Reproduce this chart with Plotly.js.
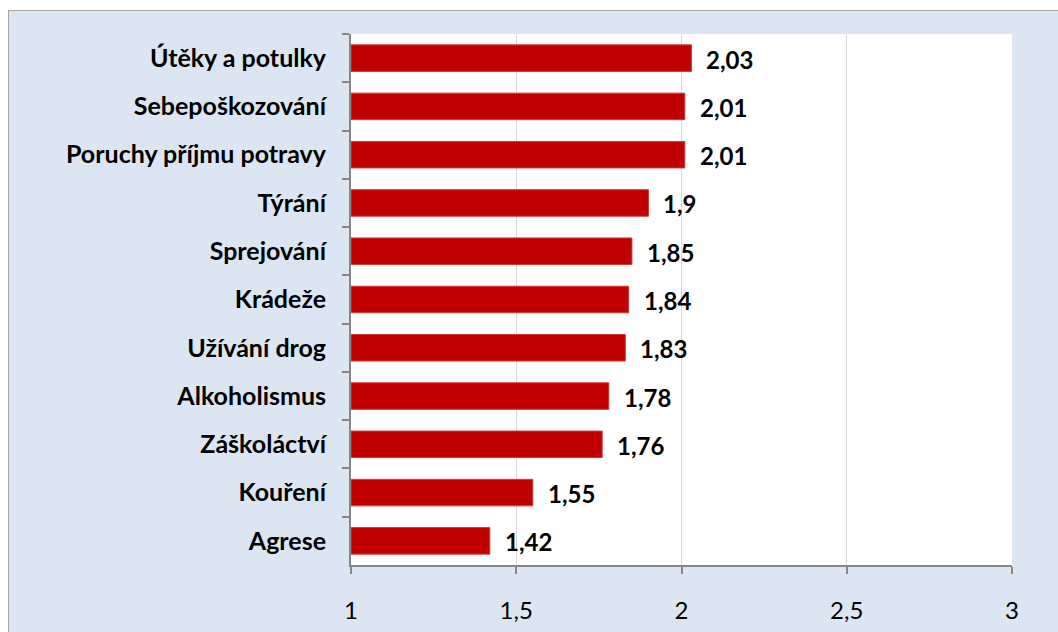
<!DOCTYPE html>
<html>
<head>
<meta charset="utf-8">
<script src="https://cdn.plot.ly/plotly-3.0.1.min.js"></script>
<style>
  html, body { margin: 0; padding: 0; background: #ffffff; width: 1058px; height: 632px; overflow: hidden; }
  #frame { position: absolute; left: 8px; top: 10px; border-left: 1px solid #a6a6a6; border-top: 1px solid #a6a6a6; width: 1049px; height: 621px; }
  #chart { width: 1049px; height: 621px; }
</style>
</head>
<body>
<div id="frame"><div id="chart"></div></div>
<script>
const categories = ["Útěky a potulky", "Sebepoškozování", "Poruchy příjmu potravy", "Týrání", "Sprejování", "Krádeže", "Užívání drog", "Alkoholismus", "Záškoláctví", "Kouření", "Agrese"];
const values = [2.03, 2.01, 2.01, 1.9, 1.85, 1.84, 1.83, 1.78, 1.76, 1.55, 1.42];
const tickValues = [1, 1.5, 2, 2.5, 3];
const tickLabels = ["1", "1,5", "2", "2,5", "3"];

const labelFont = "Lato, 'Open Sans', sans-serif";
const fmt = v => String(v).replace('.', ',');

const trace = {
  type: 'bar',
  orientation: 'h',
  x: values.map(v => v - 1),
  y: categories,
  base: 1,
  marker: { color: '#c00000', line: { color: '#d23a3a', width: 1 } },
  hoverinfo: 'skip'
};

const annotations = categories.map((c, i) => ({
  x: values[i], y: c, xref: 'x', yref: 'y',
  text: '<b>' + fmt(values[i]) + '</b>',
  showarrow: false, xanchor: 'left', yanchor: 'middle', xshift: 13, yshift: -1,
  font: { family: labelFont, size: 24, color: '#000000' }
}));

const layout = {
  width: 1049, height: 621,
  margin: { l: 342, r: 46, t: 23, b: 67 },
  paper_bgcolor: '#dce6f2',
  plot_bgcolor: '#ffffff',
  showlegend: false,
  bargap: 0.45,
  xaxis: {
    range: [1, 3],
    tickvals: tickValues,
    ticktext: tickLabels,
    showgrid: true, gridcolor: '#d9d9d9', gridwidth: 1,
    zeroline: false,
    showline: true, linecolor: '#868686', linewidth: 2,
    ticks: 'outside', ticklen: 7, tickcolor: '#868686', tickwidth: 2,
    ticklabelstandoff: 16,
    tickfont: { family: labelFont, size: 24, color: '#000000' },
    fixedrange: true
  },
  yaxis: {
    type: 'category',
    autorange: 'reversed',
    showgrid: false,
    showline: true, linecolor: '#868686', linewidth: 2,
    ticks: 'outside', ticklen: 7, tickcolor: '#868686', tickwidth: 2,
    tickson: 'boundaries',
    ticklabelstandoff: 18,
    tickfont: { family: labelFont, size: 25, color: '#000000', weight: 'bold' },
    fixedrange: true
  },
  annotations: annotations
};

Plotly.newPlot('chart', [trace], layout, { displayModeBar: false, staticPlot: true });
</script>
</body>
</html>
